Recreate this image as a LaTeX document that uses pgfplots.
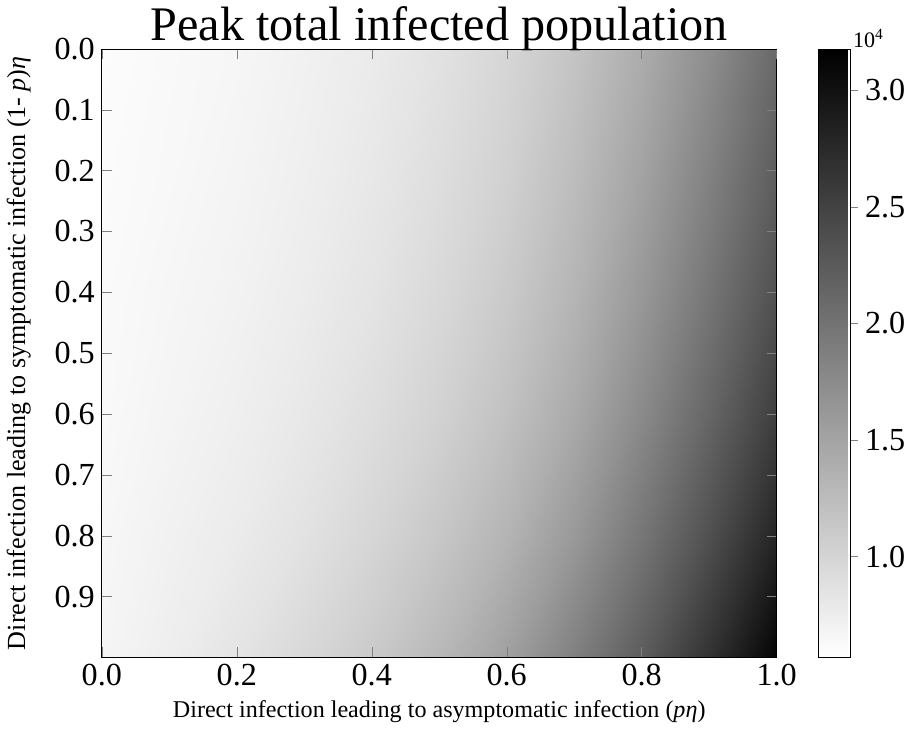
\documentclass[border=0pt]{standalone}
\usepackage{pgfplots}
\pgfplotsset{compat=1.18}
\usepackage{pgfplotstable}
\usepackage{fontspec}
\setmainfont{Liberation Serif}
\pgfplotstableread{
x y v
0.0 0.0 5977
0.1 0.0 6284
0.2 0.0 6592
0.3 0.0 7103
0.4 0.0 7718
0.5 0.0 8639
0.6 0.0 9868
0.7 0.0 11711
0.8 0.0 14168
0.9 0.0 17240
1.0 0.0 21029
0.0 0.2 6080
0.1 0.2 6387
0.2 0.2 6796
0.3 0.2 7308
0.4 0.2 8025
0.5 0.2 9049
0.6 0.2 10380
0.7 0.2 12428
0.8 0.2 15090
0.9 0.2 18469
1.0 0.2 22257
0.0 0.4 6182
0.1 0.4 6592
0.2 0.4 7001
0.3 0.4 7615
0.4 0.4 8435
0.5 0.4 9561
0.6 0.4 11097
0.7 0.4 13247
0.8 0.4 16216
0.9 0.4 19697
1.0 0.4 23588
0.0 0.6 6284
0.1 0.6 6796
0.2 0.6 7308
0.3 0.6 8025
0.4 0.6 9049
0.5 0.6 10278
0.6 0.6 12018
0.7 0.6 14373
0.8 0.6 17650
0.9 0.6 21336
1.0 0.6 25431
0.0 0.8 6489
0.1 0.8 7103
0.2 0.8 7718
0.3 0.8 8639
0.4 0.8 9868
0.5 0.8 11404
0.6 0.8 13349
0.7 0.8 16114
0.8 0.8 19697
0.9 0.8 23588
1.0 0.8 28093
0.0 1.0 6694
0.1 1.0 7411
0.2 1.0 8435
0.3 1.0 9663
0.4 1.0 11097
0.5 1.0 12940
0.6 1.0 15397
0.7 1.0 18674
0.8 1.0 22360
0.9 1.0 26660
1.0 1.0 31472
}\peakdata
\begin{document}
\begin{tikzpicture}
\begin{axis}[
  scale only axis,
  width=336pt, height=303pt,
  xmin=0, xmax=1, ymin=0, ymax=1,
  y dir=reverse,
  view={0}{90},
  axis on top,
  tick align=inside,
  xtick pos=both, ytick pos=both,
  xticklabel pos=left, yticklabel pos=left,
  major tick length=5pt,
  xtick={0,0.2,0.4,0.6,0.8,1.0},
  ytick={0,0.1,0.2,0.3,0.4,0.5,0.6,0.7,0.8,0.9},
  xticklabels={0.0,0.2,0.4,0.6,0.8,1.0},
  yticklabels={0.0,0.1,0.2,0.3,0.4,0.5,0.6,0.7,0.8,0.9},
  ticklabel style={font=\fontsize{16}{16}\selectfont},
  /pgf/number format/assume math mode=true,
  title={Peak total infected population},
  title style={font=\fontsize{24}{24}\selectfont, yshift=-10.5pt},
  xlabel={Direct infection leading to asymptomatic infection (\textit{pη})},
  ylabel={Direct infection leading to symptomatic infection (1- \textit{p})\textit{η}},
  xlabel style={font=\fontsize{12}{12}\selectfont},
  ylabel style={font=\fontsize{13}{13}\selectfont, yshift=5pt},
  colormap={wb}{gray(0cm)=(1); gray(1cm)=(0)},
  point meta min=5670, point meta max=31780,
  colorbar,
  colorbar style={
    at={(parent axis.north east)}, anchor=north west, xshift=12.5pt,
    width=15.5pt,
    scaled y ticks=false,
    ytick={10000,15000,20000,25000,30000},
    yticklabels={1.0,1.5,2.0,2.5,3.0},
    ytick pos=right, yticklabel pos=right,
    tick align=outside,
    major tick length=4pt,
    yticklabel style={font=\fontsize{16}{16}\selectfont},
    title={10\textsuperscript{4}},
    title style={at={(1,1)}, anchor=south west, font=\fontsize{11}{11}\selectfont, xshift=-2pt, yshift=-9pt},
  },
]
\addplot3[surf, shader=interp, mesh/cols=11, point meta=explicit] table[x=x, y=y, z expr=0, meta=v] {\peakdata};
\end{axis}
\end{tikzpicture}
\end{document}
